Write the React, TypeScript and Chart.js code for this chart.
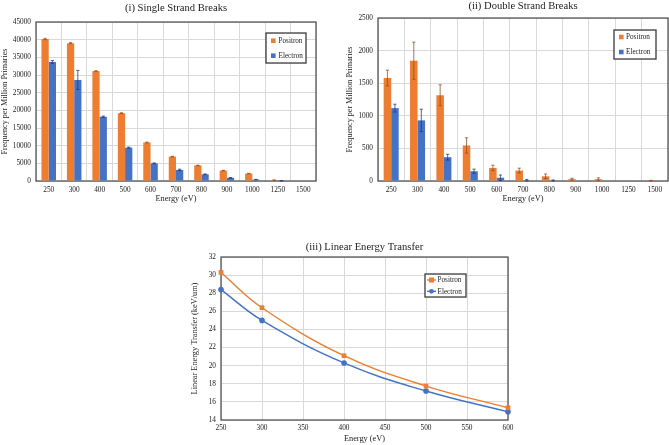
import React, { useEffect, useRef } from "react";
import { Chart, registerables } from "chart.js";

Chart.register(...registerables);

// ---------- data ----------
const energyLabels = ["250", "300", "400", "500", "600", "700", "800", "900", "1000", "1250", "1500"];

const ssbPositron = [40200, 39000, 31100, 19200, 10900, 6900, 4400, 2950, 2100, 250, 0];
const ssbPositronErr = [180, 150, 120, 120, 100, 80, 80, 70, 60, 40, 0];
const ssbElectron = [33700, 28600, 18200, 9450, 5000, 3150, 1900, 900, 400, 40, 0];
const ssbElectronErr = [400, 2700, 180, 150, 120, 200, 100, 80, 60, 20, 0];

const dsbPositron = [1580, 1845, 1315, 545, 200, 160, 72, 28, 28, 0, 5];
const dsbPositronErr = [120, 285, 160, 118, 42, 37, 35, 14, 20, 0, 5];
const dsbElectron = [1118, 930, 365, 150, 50, 12, 8, 0, 0, 0, 0];
const dsbElectronErr = [60, 172, 45, 32, 42, 12, 8, 0, 0, 0, 0];

const letEnergy = [250, 300, 400, 500, 600];
const letPositron = [30.3, 26.4, 21.1, 17.75, 15.35];
const letElectron = [28.4, 25.0, 20.3, 17.2, 14.9];

const ORANGE = "#ED7D31";
const BLUE = "#4472C4";
const SERIF = "'Liberation Serif', 'Times New Roman', serif";
const TXT = "#222";
const GRID = "#d9d9d9";

const plainTick = (v: any) => String(v);

// ---------- plugins ----------
const errorBarPlugin = {
  id: "errorBars",
  afterDatasetsDraw(chart: any) {
    const ctx = chart.ctx;
    const yScale = chart.scales.y;
    chart.data.datasets.forEach((ds: any, i: number) => {
      const errs = ds.errors;
      if (!errs) return;
      const meta = chart.getDatasetMeta(i);
      ctx.save();
      ctx.strokeStyle = ds.errorColor;
      ctx.lineWidth = 0.9;
      meta.data.forEach((el: any, j: number) => {
        const e = errs[j];
        if (!e) return;
        const v = ds.data[j];
        const x = el.x;
        const yt = yScale.getPixelForValue(v + e);
        const yb = yScale.getPixelForValue(Math.max(0, v - e));
        ctx.beginPath();
        ctx.moveTo(x, yt);
        ctx.lineTo(x, yb);
        ctx.moveTo(x - 1.6, yt);
        ctx.lineTo(x + 1.6, yt);
        ctx.moveTo(x - 1.6, yb);
        ctx.lineTo(x + 1.6, yb);
        ctx.stroke();
      });
      ctx.restore();
    });
  },
};

const framePlugin = {
  id: "frame",
  beforeDatasetsDraw(chart: any) {
    const { ctx, chartArea } = chart;
    ctx.save();
    ctx.strokeStyle = "#555";
    ctx.lineWidth = 1.3;
    ctx.strokeRect(chartArea.left, chartArea.top, chartArea.right - chartArea.left, chartArea.bottom - chartArea.top);
    ctx.restore();
  },
};

const boxLegendPlugin = {
  id: "boxLegend",
  afterDraw(chart: any, _args: any, opts: any) {
    const { ctx, chartArea } = chart;
    const x0 = chartArea.left + opts.left;
    const y0 = chartArea.top + opts.top;
    ctx.save();
    ctx.fillStyle = "#fff";
    ctx.fillRect(x0, y0, opts.width, opts.height);
    ctx.strokeStyle = "#3a3a3a";
    ctx.lineWidth = 1.3;
    ctx.strokeRect(x0, y0, opts.width, opts.height);
    ctx.font = `7.2px ${SERIF}`;
    ctx.textBaseline = "middle";
    ctx.textAlign = "left";
    chart.data.datasets.forEach((ds: any, i: number) => {
      const cy = y0 + opts.rowStart + i * opts.rowGap;
      const col = opts.kind === "line" ? ds.borderColor : ds.backgroundColor;
      if (opts.kind === "bar") {
        ctx.fillStyle = col;
        ctx.fillRect(x0 + opts.markX, cy - 2.3, 4.6, 4.6);
      } else {
        ctx.strokeStyle = col;
        ctx.lineWidth = 1.4;
        ctx.beginPath();
        ctx.moveTo(x0 + 2, cy);
        ctx.lineTo(x0 + 11, cy);
        ctx.stroke();
        ctx.fillStyle = col;
        if (ds.pointStyle === "rect") {
          ctx.fillRect(x0 + 6.5 - 2.5, cy - 2.5, 5, 5);
        } else {
          ctx.beginPath();
          ctx.arc(x0 + 6.5, cy, 2.4, 0, Math.PI * 2);
          ctx.fill();
        }
      }
      ctx.fillStyle = TXT;
      ctx.fillText(ds.label, x0 + opts.textX, cy + 0.5);
    });
    ctx.restore();
  },
};

// ---------- configs ----------
function titleOpts(text: string, top: number, bottom: number) {
  return {
    display: true,
    text,
    fullSize: false,
    color: TXT,
    font: { family: SERIF, size: 10.6, weight: "normal" as const, lineHeight: 1.2 },
    padding: { top, bottom },
  };
}

function barConfig(p: any) {
  return {
    type: "bar",
    data: {
      labels: energyLabels,
      datasets: [
        {
          label: "Positron",
          data: p.pos,
          errors: p.posErr,
          errorColor: "rgba(150,75,30,0.85)",
          backgroundColor: ORANGE,
          borderWidth: 0,
          categoryPercentage: 0.57,
          barPercentage: 1.0,
        },
        {
          label: "Electron",
          data: p.elec,
          errors: p.elecErr,
          errorColor: "rgba(35,55,115,0.85)",
          backgroundColor: BLUE,
          borderWidth: 0,
          categoryPercentage: 0.57,
          barPercentage: 1.0,
        },
      ],
    },
    options: {
      animation: false,
      responsive: false,
      maintainAspectRatio: false,
      layout: { padding: { left: 0, right: p.padRight, top: 0, bottom: 0 } },
      plugins: {
        legend: { display: false },
        tooltip: { enabled: false },
        title: titleOpts(p.title, p.titleTop, p.titleBottom),
        boxLegend: p.legend,
      },
      scales: {
        x: {
          grid: { color: GRID, lineWidth: 1, drawTicks: false, offset: true },
          border: { display: false },
          ticks: { font: { family: SERIF, size: 7.3 }, color: TXT, padding: 4.5, maxRotation: 0, autoSkip: false },
          title: {
            display: true,
            text: "Energy (eV)",
            color: TXT,
            font: { family: SERIF, size: 8.3, lineHeight: 1.2 },
            padding: { top: 0, bottom: 1 },
          },
          afterFit: (s: any) => {
            s.height = 24;
          },
        },
        y: {
          min: 0,
          max: p.yMax,
          grid: { color: GRID, lineWidth: 1, drawTicks: false },
          border: { display: false },
          ticks: { stepSize: p.yStep, font: { family: SERIF, size: 7.3 }, color: TXT, padding: 5, callback: plainTick },
          title: {
            display: true,
            text: "Frequency per Million Primaries",
            color: TXT,
            font: { family: SERIF, size: 8.1, lineHeight: 1.2 },
            padding: { top: p.yTitlePad, bottom: 0 },
          },
          afterFit: (s: any) => {
            s.width = p.yWidth;
          },
        },
      },
    },
    plugins: [framePlugin, errorBarPlugin, boxLegendPlugin],
  };
}

function ssbConfig() {
  return barConfig({
    title: "(i) Single Strand Breaks",
    pos: ssbPositron,
    posErr: ssbPositronErr,
    elec: ssbElectron,
    elecErr: ssbElectronErr,
    yMax: 45000,
    yStep: 5000,
    yWidth: 36,
    yTitlePad: 0,
    padRight: 19,
    titleTop: 2,
    titleBottom: 7.3,
    legend: { kind: "bar", left: 230, top: 11, width: 40, height: 30, markX: 5, textX: 12.5, rowStart: 7.7, rowGap: 15 },
  });
}

function dsbConfig() {
  return barConfig({
    title: "(ii) Double Strand Breaks",
    pos: dsbPositron,
    posErr: dsbPositronErr,
    elec: dsbElectron,
    elecErr: dsbElectronErr,
    yMax: 2500,
    yStep: 500,
    yWidth: 43,
    yTitlePad: 10,
    padRight: 1,
    titleTop: 0,
    titleBottom: 5.3,
    legend: { kind: "bar", left: 236, top: 12, width: 42, height: 29, markX: 5, textX: 12, rowStart: 7, rowGap: 15 },
  });
}

function letConfig() {
  return {
    type: "line",
    data: {
      datasets: [
        {
          label: "Positron",
          data: letEnergy.map((e, i) => ({ x: e, y: letPositron[i] })),
          borderColor: ORANGE,
          backgroundColor: ORANGE,
          borderWidth: 1.4,
          pointStyle: "rect",
          pointRadius: 3.3,
          pointBorderWidth: 0,
          tension: 0.4,
          clip: false,
        },
        {
          label: "Electron",
          data: letEnergy.map((e, i) => ({ x: e, y: letElectron[i] })),
          borderColor: BLUE,
          backgroundColor: BLUE,
          borderWidth: 1.4,
          pointStyle: "circle",
          pointRadius: 2.8,
          pointBorderWidth: 0,
          tension: 0.4,
          clip: false,
        },
      ],
    },
    options: {
      animation: false,
      responsive: false,
      maintainAspectRatio: false,
      layout: { padding: { left: 0, right: 12, top: 0, bottom: 0 } },
      plugins: {
        legend: { display: false },
        tooltip: { enabled: false },
        title: titleOpts("(iii) Linear Energy Transfer", 10.6, 3.7),
        boxLegend: { kind: "line", left: 204, top: 17, width: 41, height: 23, textX: 12.5, rowStart: 6, rowGap: 11.3 },
      },
      scales: {
        x: {
          type: "linear",
          min: 250,
          max: 600,
          grid: { color: GRID, lineWidth: 1, drawTicks: false },
          border: { display: false },
          ticks: { stepSize: 50, font: { family: SERIF, size: 7.3 }, color: TXT, padding: 3.7, maxRotation: 0, callback: plainTick },
          title: {
            display: true,
            text: "Energy (eV)",
            color: TXT,
            font: { family: SERIF, size: 8.3, lineHeight: 1.2 },
            padding: { top: 0, bottom: 1 },
          },
          afterFit: (s: any) => {
            s.height = 25;
          },
        },
        y: {
          min: 14,
          max: 32,
          grid: { color: GRID, lineWidth: 1, drawTicks: false },
          border: { display: false },
          ticks: { stepSize: 2, font: { family: SERIF, size: 7.3 }, color: TXT, padding: 5, callback: plainTick },
          title: {
            display: true,
            text: "Linear Energy Transfer (keV/um)",
            color: TXT,
            font: { family: SERIF, size: 8.3, lineHeight: 1.2 },
            padding: { top: 5, bottom: 0 },
          },
          afterFit: (s: any) => {
            s.width = 36;
          },
        },
      },
    },
    plugins: [framePlugin, boxLegendPlugin],
  };
}

// ---------- components ----------
function ChartBox(props: { left: number; top: number; width: number; height: number; makeConfig: () => any }) {
  const { left, top, width, height, makeConfig } = props;
  const ref = useRef<HTMLCanvasElement | null>(null);
  useEffect(() => {
    if (!ref.current) return;
    const chart = new Chart(ref.current, makeConfig());
    return () => chart.destroy();
  }, []);
  return (
    <div style={{ position: "absolute", left, top, width, height }}>
      <canvas ref={ref} width={width} height={height} style={{ width, height, display: "block" }} />
    </div>
  );
}

export default function App() {
  return (
    <div style={{ position: "fixed", left: 0, top: 0, width: 669, height: 445, background: "#fff", overflow: "hidden" }}>
      <ChartBox left={0} top={0} width={335} height={205} makeConfig={ssbConfig} />
      <ChartBox left={335} top={0} width={334} height={205} makeConfig={dsbConfig} />
      <ChartBox left={185} top={230} width={335} height={215} makeConfig={letConfig} />
    </div>
  );
}
